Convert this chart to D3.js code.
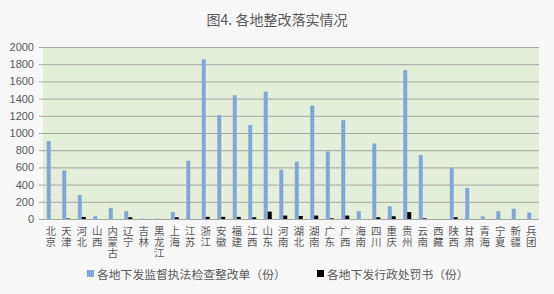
<!DOCTYPE html>
<html>
<head>
<meta charset="utf-8">
<script src="https://cdn.jsdelivr.net/npm/d3@7"></script>
<style>
  body { margin: 0; background: #f7f7f7; }
  text { font-family: "Noto Sans CJK SC", "Noto Sans", sans-serif; fill: #595959; }
</style>
</head>
<body>
<svg id="chart" width="554" height="294"></svg>
<script>
const regions = ["北京","天津","河北","山西","内蒙古","辽宁","吉林","黑龙江","上海","江苏","浙江","安徽","福建","江西","山东","河南","湖北","湖南","广东","广西","海南","四川","重庆","贵州","云南","西藏","陕西","甘肃","青海","宁夏","新疆","兵团"];
const orders = [905,565,278,31,129,90,5,5,82,677,1857,1208,1438,1092,1481,573,667,1319,785,1150,90,877,149,1729,742,0,596,361,31,90,121,75];
const penalties = [0,5,24,0,0,20,0,0,20,0,25,25,25,20,86,40,35,40,8,40,0,20,32,80,8,0,20,0,0,0,0,0];
const yTicks = [0,200,400,600,800,1000,1200,1400,1600,1800,2000];
const seriesNames = ["各地下发监督执法检查整改单（份）","各地下发行政处罚书（份）"];

const svg = d3.select("#chart");
const margin = {left: 43, right: 15, top: 47, bottom: 75};
const W = 554, H = 294;

const x = d3.scaleBand().domain(regions).range([margin.left, W - margin.right]);
const y = d3.scaleLinear().domain([0, 2000]).range([H - margin.bottom, margin.top]);

const defs = svg.append("defs");
const pat = defs.append("pattern")
  .attr("id", "dots").attr("width", 2).attr("height", 2)
  .attr("patternUnits", "userSpaceOnUse");
pat.append("rect").attr("width", 2).attr("height", 2).attr("fill", "#7a9fd6");
pat.append("rect").attr("width", 1).attr("height", 1).attr("fill", "#9db8e3");

// title
svg.append("text")
  .attr("x", 277).attr("y", 25)
  .attr("text-anchor", "middle")
  .style("font-size", "14px")
  .text("图4. 各地整改落实情况");

// plot bg
svg.append("rect")
  .attr("x", margin.left).attr("y", margin.top)
  .attr("width", W - margin.right - margin.left)
  .attr("height", H - margin.bottom - margin.top)
  .attr("fill", "#e3efd9");

// grid + y labels
const yAxis = d3.axisLeft(y).tickValues(yTicks)
  .tickFormat(d3.format("d"))
  .tickSize(-(W - margin.right - margin.left))
  .tickPadding(6);
const ga = svg.append("g")
  .attr("transform", `translate(${margin.left},0)`)
  .call(yAxis);
ga.select(".domain").remove();
ga.selectAll(".tick line").attr("stroke", "#a6a6a6").attr("x1", -4)
  .attr("x2", W - margin.right - margin.left);
ga.selectAll(".tick text")
  .attr("x", -9)
  .style("font-size", "11px")
  .style("font-family", "Arial, 'Liberation Sans', sans-serif")
  .attr("fill", "#595959");

const bw = 4;
const groups = svg.append("g").selectAll("g")
  .data(regions)
  .join("g")
  .attr("transform", d => `translate(${x(d) + x.bandwidth() / 2},0)`);

groups.append("rect")
  .attr("x", -bw)
  .attr("width", bw)
  .attr("y", (d, i) => y(orders[i]))
  .attr("height", (d, i) => y(0) - y(orders[i]))
  .attr("fill", "url(#dots)");

groups.append("rect")
  .attr("x", 0)
  .attr("width", bw)
  .attr("y", (d, i) => y(penalties[i]))
  .attr("height", (d, i) => y(0) - y(penalties[i]))
  .attr("fill", "#000");

// vertical labels
groups.append("text")
  .attr("x", 0)
  .attr("y", y(0) + 7)
  .style("writing-mode", "vertical-rl")
  .style("font-size", "10.5px")
  .style("letter-spacing", "0.5px")
  .text(d => d);

// legend
const lg = svg.append("g");
const lx = [87, 317];
seriesNames.forEach((name, i) => {
  lg.append("rect")
    .attr("x", lx[i]).attr("y", 270)
    .attr("width", 7).attr("height", 7)
    .attr("fill", i === 0 ? "url(#dots)" : "#000");
  lg.append("text")
    .attr("x", lx[i] + 10).attr("y", 278.5)
    .style("font-size", "11.8px")
    .text(name);
});
</script>
</body>
</html>
